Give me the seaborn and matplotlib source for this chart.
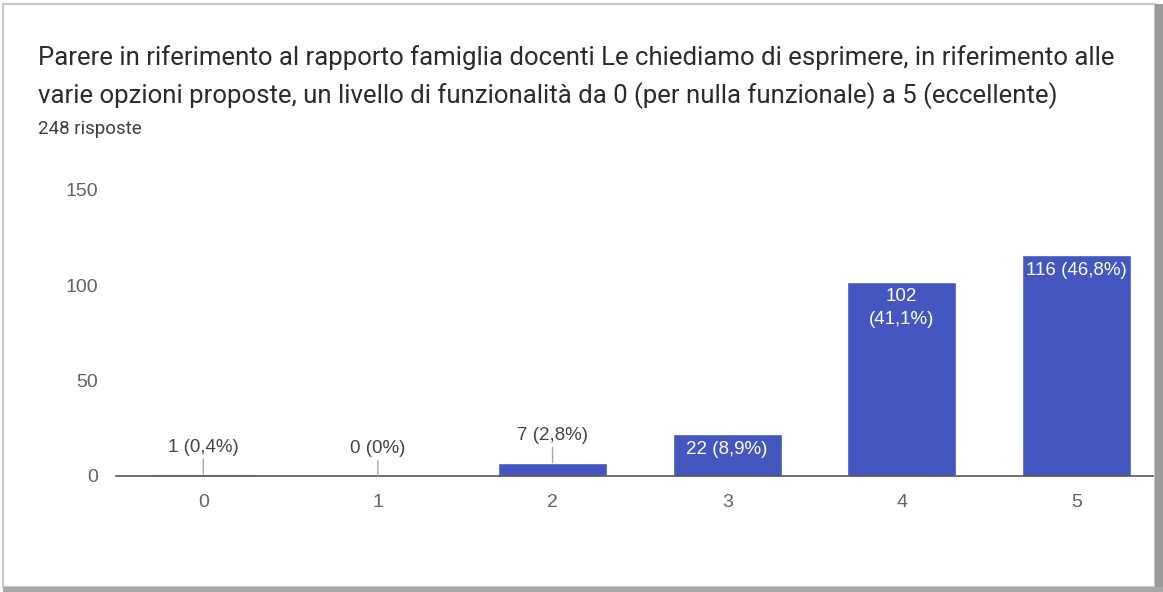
import matplotlib
matplotlib.use("Agg")
import matplotlib.pyplot as plt
import seaborn as sns
import pandas as pd
from matplotlib.patches import Rectangle

# data
levels = ["0", "1", "2", "3", "4", "5"]
counts = [1, 0, 7, 22, 102, 116]
labels = ["1 (0,4%)", "0 (0%)", "7 (2,8%)", "22 (8,9%)", "102\n(41,1%)", "116 (46,8%)"]
yticks = [0, 50, 100, 150]

title = ("Parere in riferimento al rapporto famiglia docenti Le chiediamo di esprimere, in riferimento alle\n"
         "varie opzioni proposte, un livello di funzionalità da 0 (per nulla funzionale) a 5 (eccellente)")
subtitle = "248 risposte"

bar_color = "#4456bf"
text_gray = "#5f6368"

sns.set_theme(style="white")
plt.rcParams['font.family'] = ['Liberation Sans', 'DejaVu Sans']

df = pd.DataFrame({"livello": levels, "risposte": counts})

fig = plt.figure(figsize=(11.63, 5.92), dpi=100)
ax = fig.add_axes([116 / 1163, 1 - 476 / 592, (1155 - 116) / 1163, (476 - 190) / 592])

sns.barplot(data=df, x="livello", y="risposte", color=bar_color, width=0.625,
            saturation=1, ax=ax)

ax.set_xlim(-0.5, 5.45)
ax.set_ylim(0, 150)
ax.set_yticks(yticks)
ax.set_xlabel("")
ax.set_ylabel("")
for s in ["top", "right", "left"]:
    ax.spines[s].set_visible(False)
ax.spines["bottom"].set_color("#555555")
ax.spines["bottom"].set_linewidth(1.2)
ax.tick_params(axis="both", length=0, labelsize=14, labelcolor=text_gray)
ax.tick_params(axis="y", pad=13)
ax.tick_params(axis="x", pad=13)
ax.grid(False)

# value labels: above small bars with a leader line, inside big bars in white
for i, (v, lab) in enumerate(zip(counts, labels)):
    if v < 15:
        ax.annotate(lab, xy=(i, v), xytext=(0, 19.5), textcoords="offset points",
                    ha="center", va="center", fontsize=13.5, color="#444444",
                    arrowprops=dict(arrowstyle="-", color="#aaaaaa", lw=1,
                                    shrinkA=0, shrinkB=0))
    else:
        ax.annotate(lab, xy=(i, v), xytext=(0, -5), textcoords="offset points",
                    ha="center", va="top", fontsize=13.5, color="white",
                    linespacing=1.45)

fig.text(38 / 1163, 1 - 77 / 592, title, fontsize=18.5, color="#2b2b2b",
         family=["Roboto", "DejaVu Sans"], va="center", linespacing=1.6)
fig.text(38 / 1163, 1 - 129 / 592, subtitle, fontsize=13.5, color="#3c4043",
         family=["Roboto", "DejaVu Sans"], va="center")

# screenshot frame with a soft shadow on the right and bottom
fig.patches.append(Rectangle((0.003, 0.008), 0.99, 0.986, transform=fig.transFigure,
                             fill=False, edgecolor="#c8c8c8", lw=1.5))
fig.patches.append(Rectangle((0.993, 0.008), 0.007, 0.986, transform=fig.transFigure,
                             facecolor="#9a9a9a", edgecolor="none"))
fig.patches.append(Rectangle((0.003, 0.0), 0.997, 0.009, transform=fig.transFigure,
                             facecolor="#a8a8a8", edgecolor="none"))

fig.savefig("out.png", dpi=100)
